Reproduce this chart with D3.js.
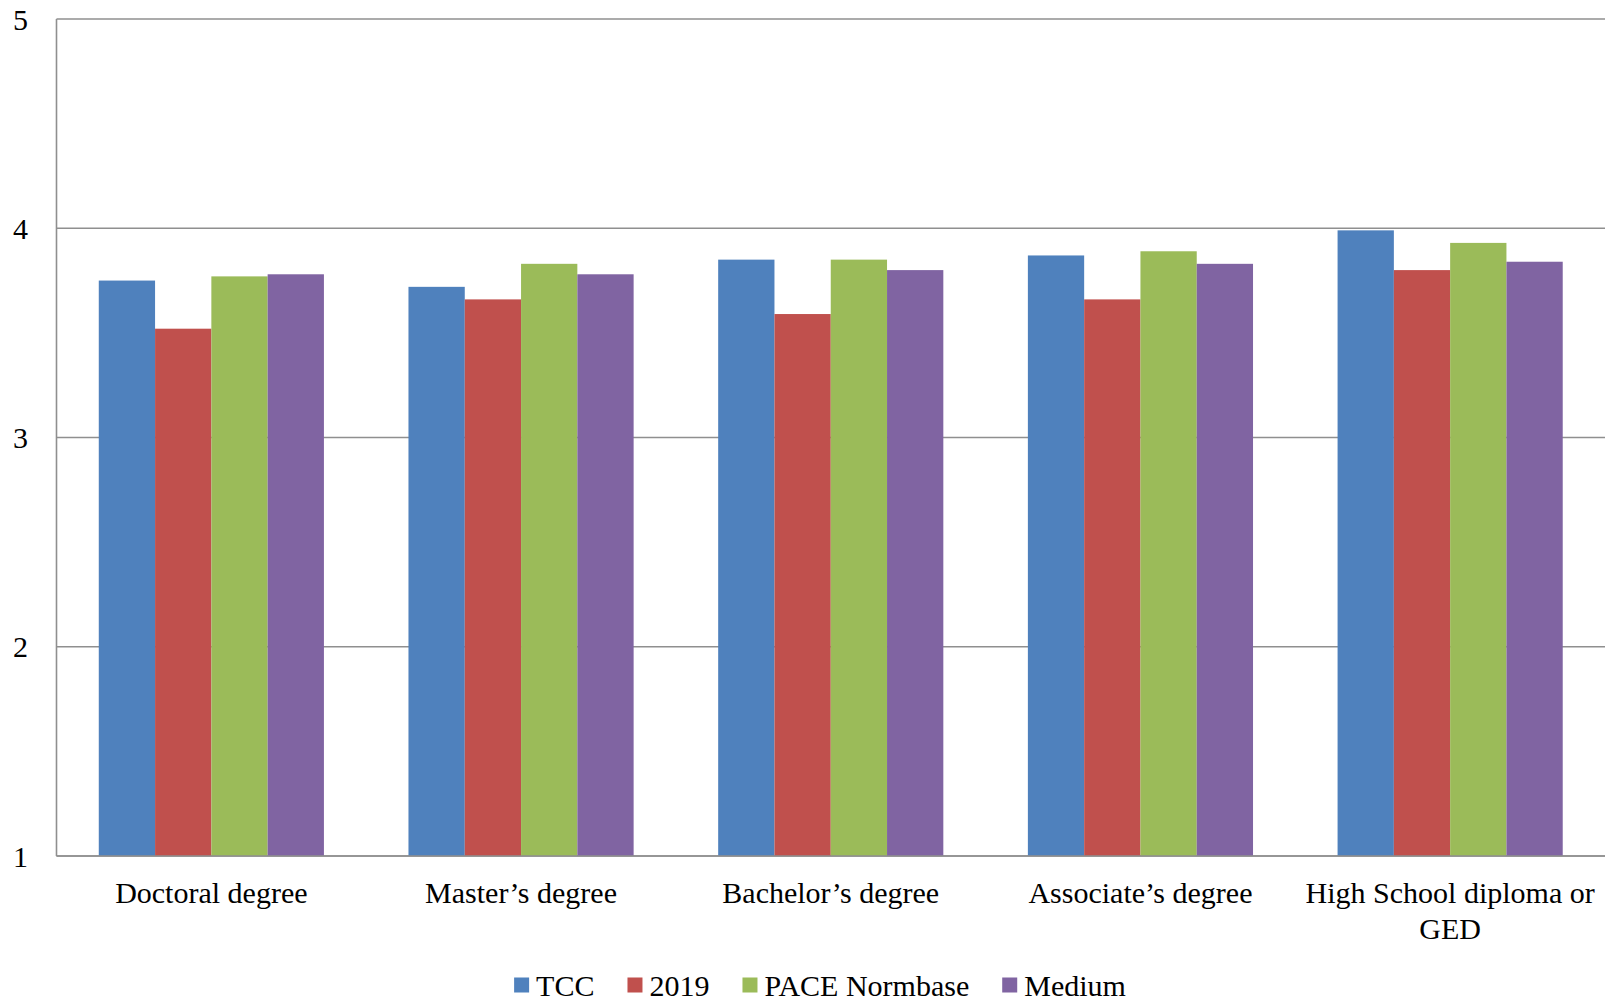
<!DOCTYPE html>
<html>
<head>
<meta charset="utf-8">
<script src="https://cdn.jsdelivr.net/npm/d3@7"></script>
<style>
  body { margin: 0; background: #fff; }
  svg { display: block; font-family: "Liberation Serif", "Times New Roman", serif; }
</style>
</head>
<body>
<div id="chart"></div>
<script>
// data
const categories = ["Doctoral degree", "Master\u2019s degree", "Bachelor\u2019s degree", "Associate\u2019s degree", "High School diploma or GED"];
const seriesNames = ["TCC", "2019", "PACE Normbase", "Medium"];
const tcc = [3.75, 3.72, 3.85, 3.87, 3.99];
const y2019 = [3.52, 3.66, 3.59, 3.66, 3.80];
const pace = [3.77, 3.83, 3.85, 3.89, 3.93];
const medium = [3.78, 3.78, 3.80, 3.83, 3.84];
const yTicks = [1, 2, 3, 4, 5];
const colors = ["#4F81BD", "#C0504D", "#9BBB59", "#8064A2"];

const width = 1610, height = 1003;
const margin = {top: 19, right: 5, bottom: 147, left: 56.5};
const fontSize = 30;

const values = [tcc, y2019, pace, medium];
const rows = categories.map((c, i) => ({cat: c, vals: values.map((s, j) => ({name: seriesNames[j], v: s[i], k: j}))}));

const svg = d3.select("#chart").append("svg").attr("width", width).attr("height", height);

const x0 = d3.scaleBand().domain(categories)
  .range([margin.left, width - margin.right])
  .paddingInner(0.273).paddingOuter(0.1365);
const x1 = d3.scaleBand().domain(seriesNames).range([0, x0.bandwidth()]);
const y = d3.scaleLinear().domain([1, 5]).range([height - margin.bottom, margin.top]);

// gridlines
svg.append("g").selectAll("line").data(yTicks).join("line")
  .attr("x1", margin.left).attr("x2", width - margin.right)
  .attr("y1", d => y(d)).attr("y2", d => y(d))
  .attr("stroke", "#8f8f8f").attr("stroke-width", 1.6);

// left axis line
svg.append("line")
  .attr("x1", margin.left).attr("x2", margin.left)
  .attr("y1", y(5)).attr("y2", y(1))
  .attr("stroke", "#8f8f8f").attr("stroke-width", 1.6);

// y tick labels
svg.append("g").selectAll("text").data(yTicks).join("text")
  .attr("x", 28).attr("y", d => y(d))
  .attr("text-anchor", "end").attr("dominant-baseline", "central")
  .attr("font-size", fontSize).attr("fill", "#000")
  .text(d => d);

// bars
const groups = svg.append("g").selectAll("g").data(rows).join("g")
  .attr("transform", d => `translate(${x0(d.cat)},0)`);
groups.selectAll("rect").data(d => d.vals).join("rect")
  .attr("x", d => x1(d.name))
  .attr("width", x1.bandwidth())
  .attr("y", d => y(d.v))
  .attr("height", d => y(1) - y(d.v))
  .attr("fill", d => colors[d.k]);

// redraw baseline over bars
svg.append("line")
  .attr("x1", margin.left).attr("x2", width - margin.right)
  .attr("y1", y(1)).attr("y2", y(1))
  .attr("stroke", "#8f8f8f").attr("stroke-width", 1.6);

// category labels (wrap long one)
const catLabels = {
  "High School diploma or GED": ["High School diploma or", "GED"]
};
const labelG = svg.append("g").selectAll("text").data(categories).join("text")
  .attr("text-anchor", "middle")
  .attr("font-size", fontSize).attr("fill", "#000")
  .attr("x", d => x0(d) + x0.bandwidth() / 2)
  .attr("y", 892)
  .attr("dominant-baseline", "central");
labelG.each(function (d) {
  const lines = catLabels[d] || [d];
  const t = d3.select(this);
  lines.forEach((ln, i) => {
    t.append("tspan")
      .attr("x", x0(d) + x0.bandwidth() / 2)
      .attr("dy", i === 0 ? 0 : 36)
      .text(ln);
  });
});

// legend
const legend = svg.append("g");
let lx = 0;
const sw = 15, gapAfterSwatch = 7, gapItem = 33;
seriesNames.forEach((name, i) => {
  const item = legend.append("g").attr("transform", `translate(${lx},0)`);
  item.append("rect").attr("x", 0).attr("y", -sw / 2).attr("width", sw).attr("height", sw).attr("fill", colors[i]);
  const t = item.append("text").attr("x", sw + gapAfterSwatch).attr("y", 0)
    .attr("dominant-baseline", "central").attr("font-size", fontSize).attr("fill", "#000")
    .text(name);
  lx += sw + gapAfterSwatch + t.node().getComputedTextLength() + gapItem;
});
const legendW = lx - gapItem;
legend.attr("transform", `translate(${820 - legendW / 2},${985})`);
</script>
</body>
</html>
